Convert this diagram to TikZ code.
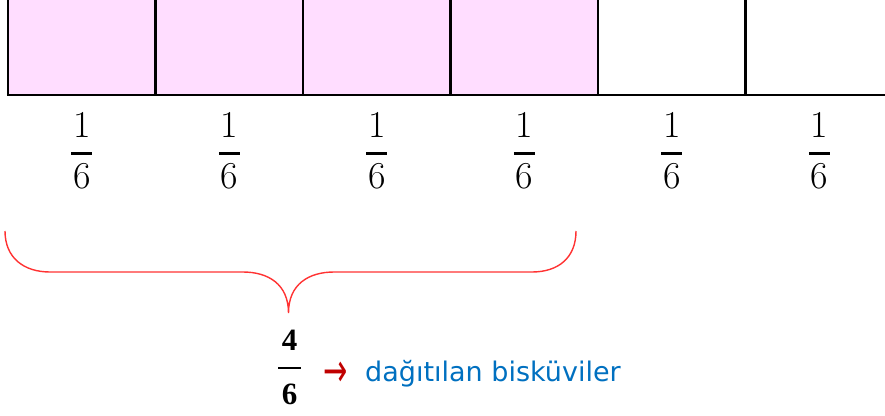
\documentclass[tikz,border=0pt]{standalone}
\usepackage{fontspec}
\newfontfamily\labelfont{DejaVu Sans}
\newfontfamily\boldserif{Liberation Serif}
\definecolor{cellpink}{RGB}{255,221,255}
\definecolor{txtblue}{RGB}{0,112,192}
\definecolor{arrowred}{RGB}{192,0,0}
\definecolor{bracered}{RGB}{255,50,50}
\begin{document}
\begin{tikzpicture}[x=1pt,y=-1pt,
  gridline/.style={draw=black,line width=2.3pt},
  fracdigit/.style={font=\fontsize{38}{40}\selectfont,inner sep=0pt,anchor=base},
  fracbar/.style={draw=black,line width=3pt},
  bolddigit/.style={font=\boldserif\bfseries\fontsize{31}{33}\selectfont,inner sep=0pt,anchor=base},
  boldbar/.style={draw=black,line width=2pt},
  bracestyle/.style={draw=bracered,line width=1.4pt},
  arrowtext/.style={font=\labelfont\fontsize{29}{32}\selectfont,text=arrowred,inner sep=0pt,anchor=base west},
  labeltext/.style={font=\labelfont\fontsize{27}{30}\selectfont,text=txtblue,inner sep=0pt,anchor=base west}]
\useasboundingbox (0,0) rectangle (885,415);
% shaded cells
\fill[cellpink] (8,0) rectangle (598,95);
% cell borders
\foreach \i in {0,...,5}
  \draw[gridline] ({8+147.5*\i},0) -- ({8+147.5*\i},95);
\draw[gridline] (6.85,95) -- (885,95);
% fractions 1/6
\foreach \i in {1,...,6}{
  \pgfmathsetmacro{\cx}{8+147.5*(\i-0.5)}
  \node[fracdigit] (n\i) at (\cx,137) {1};
  \node[fracdigit] (d\i) at (\cx,188) {6};
  \coordinate (bl\i) at ({\cx-10.5},153);
  \coordinate (br\i) at ({\cx+10.5},153);
  \draw[fracbar] (bl\i) -- (br\i);
}
% brace
\coordinate (bL) at (5,231);
\coordinate (bM) at (288.5,313);
\coordinate (bR) at (576,231);
\draw[bracestyle] (bL) .. controls (5,258) and (24,272) .. (50,272)
  -- (243,272) .. controls (268,272) and (288.5,284) .. (bM)
  .. controls (288.5,284) and (309,272) .. (334,272)
  -- (532,272) .. controls (558,272) and (576,258) .. (bR);
% 4/6
\node[bolddigit] (num) at (289.5,350) {4};
\node[bolddigit] (den) at (289.5,404) {6};
\coordinate (kl) at (278,368);
\coordinate (kr) at (301,368);
\draw[boldbar] (kl) -- (kr);
% arrow and label
\node[arrowtext] (arr) at (323,386) {\scalebox{1}[1.6]{→}};
\node[labeltext] (lbl) at (365,381) {dağıtılan bisküviler};
\end{tikzpicture}
\end{document}
